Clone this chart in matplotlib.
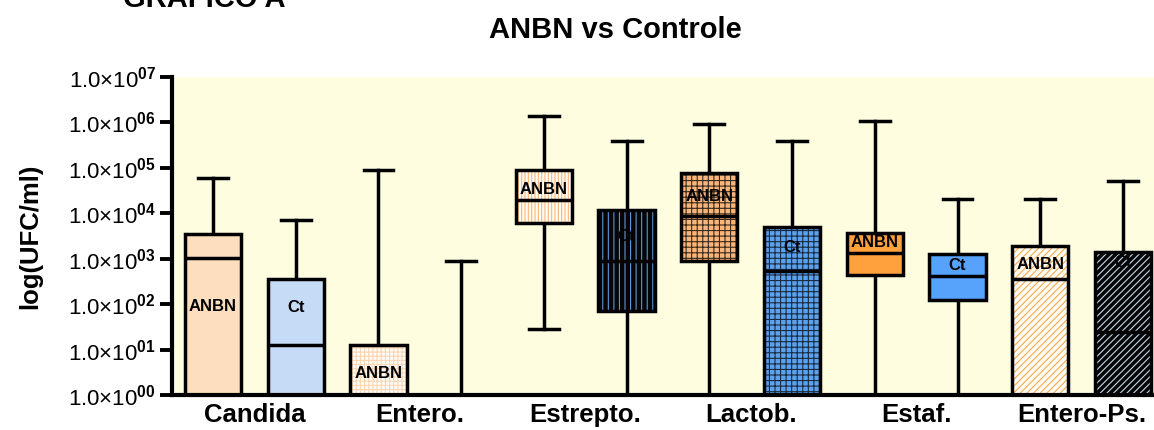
import numpy as np
import matplotlib
matplotlib.use('Agg')
import matplotlib.pyplot as plt
from matplotlib.patches import PathPatch

plt.rcParams['font.family'] = ['Liberation Sans', 'DejaVu Sans']
plt.rcParams['mathtext.fontset'] = 'custom'
plt.rcParams['mathtext.bf'] = 'Liberation Sans:bold'
plt.rcParams['mathtext.rm'] = 'Liberation Sans:bold'
plt.rcParams['mathtext.default'] = 'bf'
plt.rcParams['hatch.linewidth'] = 0.8

categories = ['Candida', 'Entero.', 'Estrepto.', 'Lactob.', 'Estaf.', 'Entero-Ps.']
groups = ['ANBN', 'Ct']

# log10(UFC/ml)
anbn_max = [4.78, 4.95, 6.14, 5.97, 6.03, 4.31]
anbn_q3 = [3.54, 1.10, 4.95, 4.89, 3.57, 3.28]
anbn_med = [3.02, 0.0, 4.29, 3.94, 3.13, 2.55]
anbn_q1 = [0.0, 0.0, 3.79, 2.95, 2.64, 0.0]
anbn_min = [0.0, 0.0, 1.45, 0.0, 0.0, 0.0]

ct_max = [3.85, 2.95, 5.59, 5.59, 4.31, 4.71]
ct_q3 = [2.55, 0.0, 4.07, 3.70, 3.10, 3.15]
ct_med = [1.10, 0.0, 2.95, 2.73, 2.62, 1.39]
ct_q1 = [0.0, 0.0, 1.85, 0.0, 2.09, 0.0]
ct_min = [0.0, 0.0, 0.0, 0.0, 0.0, 0.0]

ytick_exp = [0, 1, 2, 3, 4, 5, 6, 7]

# fill, hatch, hatch colour for each box (ANBN, Ct per category)
box_styles = [
    ('#FDDEBF', '', 'none'), ('#C6DCF6', '', 'none'),
    ('#FFFBF6', '+' * 4, '#FBD6B4'), ('#FFFFFF', '', 'none'),
    ('#FFFDF3', '|' * 5, '#FBB57A'), ('#050505', '|' * 3, '#5E97D6'),
    ('#F8B57C', '+' * 3, '#3A2A1A'), ('#5AA2EE', '+' * 3, '#1A2A40'),
    ('#FFA23E', '', 'none'), ('#57A3FC', '', 'none'),
    ('#FFFDF3', '/' * 5, '#F8A850'), ('#050505', '/' * 5, '#C6DAF0'),
]
# where the group name sits inside each box (log10 units), None = no label
label_y = [1.94, 1.92, 0.48, None, 4.53, 3.50, 4.36, 3.24, 3.35, 2.86, 2.88, 2.91]

stats = []
names = []
for i in range(len(categories)):
    for g, (mx, q3, md, q1, mn) in zip(groups, [
            (anbn_max, anbn_q3, anbn_med, anbn_q1, anbn_min),
            (ct_max, ct_q3, ct_med, ct_q1, ct_min)]):
        stats.append({
            'whishi': 10 ** mx[i], 'q3': 10 ** q3[i], 'med': 10 ** md[i],
            'q1': 10 ** q1[i], 'whislo': 10 ** mn[i], 'fliers': []})
        names.append(g)

positions = np.arange(1, len(stats) + 1)

fig = plt.figure(figsize=(11.54, 4.30), dpi=100)
ax = fig.add_axes([0.149, 0.0814, 0.851, 0.7395])
ax.set_facecolor('#FEFDE0')

lw = 2.5
res = ax.bxp(stats, positions=positions, widths=0.68, capwidths=0.36,
             patch_artist=True, showfliers=False,
             boxprops=dict(facecolor='none', edgecolor='black', linewidth=lw, zorder=3),
             whiskerprops=dict(color='black', linewidth=lw, zorder=2),
             capprops=dict(color='black', linewidth=lw, zorder=2),
             medianprops=dict(color='black', linewidth=lw, zorder=3))

for box, (face, hatch, hcol) in zip(res['boxes'], box_styles):
    fill = PathPatch(box.get_path(), transform=box.get_transform(),
                     facecolor=face, edgecolor=hcol, hatch=hatch or None,
                     linewidth=0, zorder=2.5)
    ax.add_patch(fill)

for pos, name, ly in zip(positions, names, label_y):
    if ly is None:
        continue
    ax.text(pos, 10 ** ly, name, ha='center', va='center', fontsize=12,
            fontweight='bold', color='black', zorder=4)

ax.set_yscale('log')
ax.set_ylim(1, 1e7)
ax.set_xlim(0.504, 12.375)
ax.set_yticks([10.0 ** e for e in ytick_exp])
ax.set_yticklabels(['1.0×10$^{%02d}$' % e for e in ytick_exp], fontsize=16)
ax.yaxis.set_minor_locator(matplotlib.ticker.NullLocator())

centers = [positions[2 * i] + 0.5 for i in range(len(categories))]
ax.set_xticks(centers)
ax.set_xticklabels(categories, fontsize=18.5, fontweight='bold')
ax.tick_params(axis='x', length=0, pad=6)
ax.tick_params(axis='y', length=8.5, width=2.8, pad=3)

for side in ['top', 'right']:
    ax.spines[side].set_visible(False)
for side in ['left', 'bottom']:
    ax.spines[side].set_linewidth(3)
    ax.spines[side].set_zorder(5)

fig.text(0.533, 0.93, 'ANBN vs Controle', ha='center', va='center',
         fontsize=21, fontweight='bold')
fig.text(0.177, 0.984, 'GRAFICO A', ha='center', va='baseline',
         fontsize=21, fontweight='bold')
fig.text(0.026, 0.451, 'log(UFC/ml)', ha='center', va='center', rotation=90,
         fontsize=18.5, fontweight='bold')

fig.savefig('out.png', dpi=100)
